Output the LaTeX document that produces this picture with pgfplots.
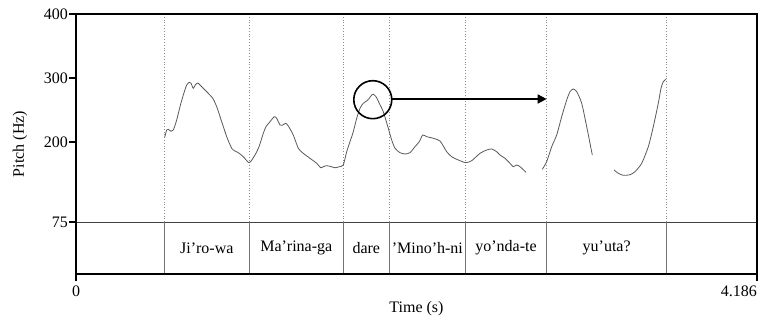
\documentclass[border=0pt]{standalone}
\usepackage{pgfplots}
\pgfplotsset{compat=1.18}
\usepackage{fontspec}
\setmainfont{Liberation Serif}
\usetikzlibrary{arrows.meta}
\pgfplotsset{
  tierline/.style={line width=0.9pt, black!55, forget plot},
  dotline/.style={line width=0.8pt, black!45, dotted, forget plot},
  f0/.style={line width=0.8pt, black!65, smooth, tension=0.4, forget plot},
}
\begin{document}
\begin{tikzpicture}
\begin{axis}[
  name=ax,
  at={(76pt,47pt)}, anchor=south west,
  scale only axis, width=681pt, height=260pt,
  xmin=0, xmax=4.186, ymin=-6.25, ymax=400,
  font=\fontsize{16}{19}\selectfont,
  /pgf/number format/assume math mode=true,
  axis line style={line width=1.5pt, black},
  xtick={0}, xticklabels={0},
  extra x ticks={4.186}, extra x tick labels={4.186},
  extra x tick style={xticklabel style={anchor=north east}},
  xticklabel style={inner sep=0pt, yshift=-5pt},
  ytick={75,200,300,400},
  yticklabel style={anchor=east, inner sep=0pt, xshift=-1pt},
  tick align=outside, tick pos=left, major tick length=7pt,
  tick style={line width=1.2pt, black},
  xlabel={Time (s)}, ylabel={Pitch (Hz)},
  xlabel style={at={(axis description cs:0.5,-0.1346)}, anchor=center},
  ylabel style={at={(axis description cs:-0.0822,0.5)}, anchor=center},
]
% tier line
\addplot[line width=1pt, black!75, forget plot] coordinates {(0,75) (4.186,75)};
% boundaries: solid in tier, dotted above
\addplot[tierline] coordinates {(0.543,-6.25) (0.543,75)};
\addplot[tierline] coordinates {(1.065,-6.25) (1.065,75)};
\addplot[tierline] coordinates {(1.643,-6.25) (1.643,75)};
\addplot[tierline] coordinates {(1.926,-6.25) (1.926,75)};
\addplot[tierline] coordinates {(2.393,-6.25) (2.393,75)};
\addplot[tierline] coordinates {(2.893,-6.25) (2.893,75)};
\addplot[tierline] coordinates {(3.631,-6.25) (3.631,75)};
\addplot[dotline] coordinates {(0.543,75) (0.543,400)};
\addplot[dotline] coordinates {(1.065,75) (1.065,400)};
\addplot[dotline] coordinates {(1.643,75) (1.643,400)};
\addplot[dotline] coordinates {(1.926,75) (1.926,400)};
\addplot[dotline] coordinates {(2.393,75) (2.393,400)};
\addplot[dotline] coordinates {(2.893,75) (2.893,400)};
\addplot[dotline] coordinates {(3.631,75) (3.631,400)};
% tier labels
\node at (axis cs:0.804,34.4) {Ji’ro-wa};
\node at (axis cs:1.354,34.4) {Ma’rina-ga};
\node at (axis cs:1.7845,34.4) {dare};
\node at (axis cs:2.1595,34.4) {’Mino’h-ni};
\node at (axis cs:2.643,34.4) {yo’nda-te};
\node at (axis cs:3.262,34.4) {yu’uta?};
% pitch contour
\addplot[f0] coordinates {
(0.5452,207.3) (0.5575,218.8) (0.5673,219.8) (0.5839,216.7) (0.5981,218.8) (0.6190,234.4)
(0.6393,255.2) (0.6595,273.4) (0.6804,289.1) (0.6964,293.3) (0.7069,291.7) (0.7210,283.9)
(0.7333,289.1) (0.7481,292.2) (0.7622,289.1) (0.8034,278.6) (0.8403,268.3) (0.8648,255.2)
(0.8956,231.7) (0.9263,208.3) (0.9570,190.2) (0.9773,185.9) (0.9976,183.3) (1.0284,177.0)
(1.0652,167.7) (1.1003,179.7) (1.1267,193.8) (1.1513,213.6) (1.1679,223.9) (1.1925,231.7)
(1.2189,239.5) (1.2336,237.0) (1.2539,226.6) (1.2681,226.1) (1.2890,229.2) (1.3050,225.0)
(1.3357,210.9) (1.3664,190.2) (1.3972,182.3) (1.4383,174.5) (1.4795,166.7) (1.5041,159.8)
(1.5201,161.4) (1.5367,163.0) (1.5613,162.0) (1.5920,159.8) (1.6184,161.4) (1.6430,164.1)
(1.6639,184.8) (1.6842,200.5) (1.7045,216.1) (1.7254,237.0) (1.7457,252.7) (1.7660,260.5)
(1.7869,264.1) (1.8029,268.3) (1.8176,273.4) (1.8274,274.5) (1.8440,270.8) (1.8643,260.5)
(1.8889,247.3) (1.9196,221.4) (1.9405,203.1) (1.9608,190.2) (1.9915,183.3) (2.0223,181.3)
(2.0530,183.3) (2.0837,192.7) (2.1102,200.5) (2.1311,210.9) (2.1557,208.3) (2.1963,205.8)
(2.2374,201.6) (2.2786,184.8) (2.3093,177.0) (2.3499,171.9) (2.3954,167.7) (2.4323,170.8)
(2.4833,182.3) (2.5245,187.5) (2.5552,189.1) (2.5860,184.8) (2.6062,179.7) (2.6370,174.5)
(2.6677,166.7) (2.6880,161.4) (2.7088,164.1) (2.7291,161.4) (2.7660,152.7)
};
\addplot[f0] coordinates {
(2.8662,157.3) (2.8932,169.2) (2.9240,192.7) (2.9547,210.9) (2.9854,239.5) (3.0162,265.6)
(3.0365,278.6) (3.0568,282.8) (3.0777,278.6) (3.1084,260.5) (3.1392,223.9) (3.1736,179.7)
};
\addplot[f0] coordinates {
(3.3069,156.3) (3.3334,151.1) (3.3641,148.0) (3.4053,148.9) (3.4360,153.6) (3.4772,166.7)
(3.5178,192.7) (3.5485,223.9) (3.5792,260.5) (3.5958,283.9) (3.6099,294.2) (3.6265,298.0)
};
% annotation
\draw[line width=1.6pt, black] (axis cs:1.8243,266.1) circle[radius=19pt];
\draw[line width=1.6pt, black, -{Triangle[length=9pt,width=9pt]}] (axis cs:1.944,267.2) -- (axis cs:2.893,267.2);
\end{axis}
\draw[line width=2pt, black] (ax.south west) rectangle (ax.north east);
\pgfresetboundingbox
\path[use as bounding box] (0,0) rectangle (775pt,321pt);
\end{tikzpicture}
\end{document}
